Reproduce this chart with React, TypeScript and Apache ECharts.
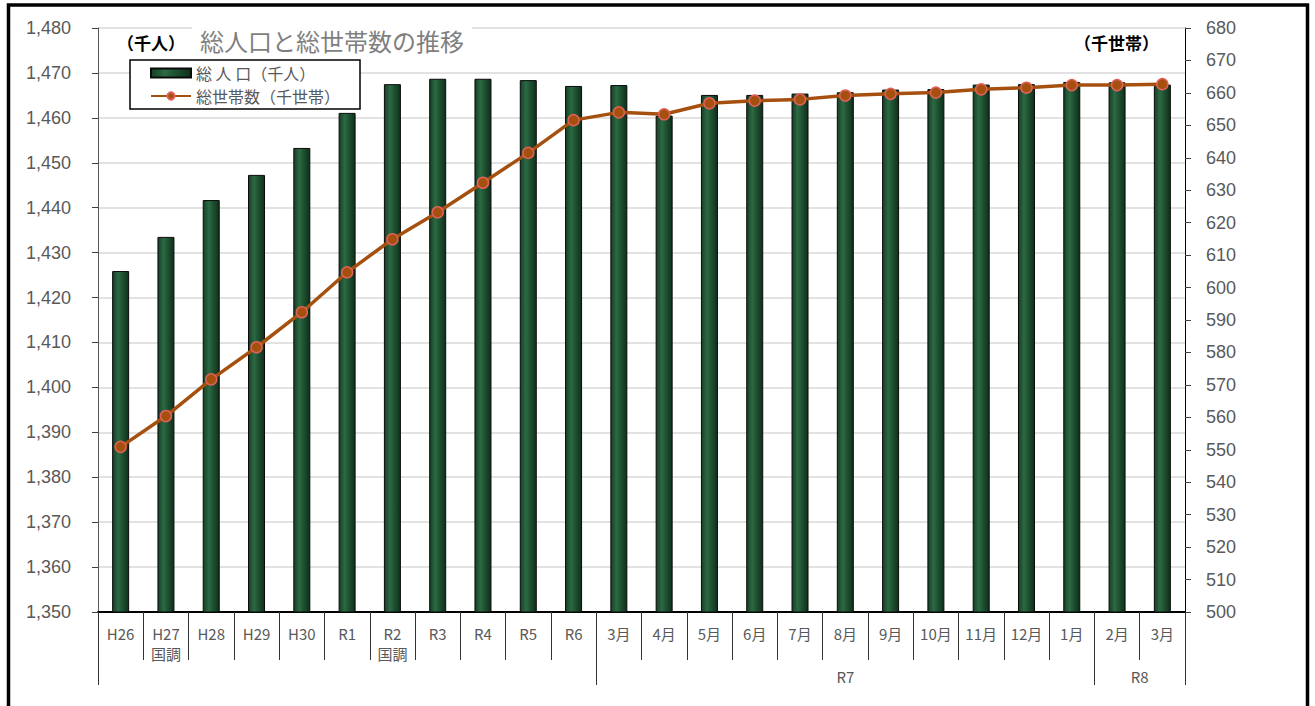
import React, { useEffect, useRef } from "react";
import * as echarts from "echarts";

const categories = [
  "H26", "H27\n国調", "H28", "H29", "H30", "R1", "R2\n国調", "R3", "R4", "R5", "R6",
  "3月", "4月", "5月", "6月", "7月", "8月", "9月", "10月", "11月", "12月", "1月", "2月", "3月",
];

const population = [
  1425.9, 1433.5, 1441.7, 1447.3, 1453.3, 1461.1, 1467.5, 1468.7, 1468.7, 1468.4, 1467.1,
  1467.3, 1460.5, 1465.1, 1465.1, 1465.4, 1465.7, 1466.3, 1466.4, 1467.4, 1467.5, 1468.0, 1467.9, 1467.4,
];

const households = [
  550.9, 560.4, 571.7, 581.6, 592.4, 604.7, 614.9, 623.2, 632.3, 641.5, 651.6,
  654.0, 653.4, 656.8, 657.6, 658.0, 659.2, 659.7, 660.1, 661.1, 661.6, 662.4, 662.4, 662.7,
];

const groupTicks = [0, 11, 22, 24];
const groupLabelPos = [16.5, 23];
const groupLabels = ["R7", "R8"];

const popName = "総 人 口（千人）";
const hhName = "総世帯数（千世帯）";

export default function App() {
  const ref = useRef<HTMLDivElement>(null);
  useEffect(() => {
    if (!ref.current) return;
    const chart = echarts.init(ref.current, null, { renderer: "svg" });
    const font = "'Noto Sans CJK JP', 'Liberation Sans', sans-serif";
    const numFont = "'Liberation Sans', Arial, sans-serif";
    chart.setOption({
      animation: false,
      textStyle: { fontFamily: font },
      grid: { left: 98, right: 130, top: 28, bottom: 94, containLabel: false },
      title: {
        text: "総人口と総世帯数の推移",
        left: 192,
        top: 18,
        backgroundColor: "#ffffff",
        padding: [10, 8, 4, 8],
        textStyle: { fontSize: 24, color: "#7f7f7f", fontWeight: "normal", fontFamily: font },
      },
      legend: {
        left: 130,
        top: 60,
        orient: "vertical",
        backgroundColor: "#ffffff",
        borderColor: "#000000",
        borderWidth: 1.5,
        borderRadius: 0,
        padding: [5, 20, 5, 20],
        itemGap: 7,
        itemWidth: 40,
        itemHeight: 9,
        textStyle: { fontSize: 16, lineHeight: 16, color: "#595959", fontFamily: font },
        data: [
          { name: popName, icon: "rect" },
          { name: hhName },
        ],
      },
      xAxis: [
        {
          type: "category",
          data: categories,
          boundaryGap: true,
          axisLine: { show: true, lineStyle: { color: "#000000", width: 2 } },
          axisTick: { show: true, interval: 0, length: 48, lineStyle: { color: "#333333", width: 1 } },
          axisLabel: {
            interval: 0,
            margin: 11,
            fontSize: 15,
            lineHeight: 20,
            color: "#595959",
            fontFamily: font,
          },
          splitLine: { show: false },
        },
        {
          type: "value",
          position: "bottom",
          offset: 0,
          min: 0,
          max: 24,
          axisLine: { show: false },
          axisTick: {
            show: true,
            customValues: groupTicks,
            length: 73,
            lineStyle: { color: "#333333", width: 1 },
          },
          axisLabel: {
            show: true,
            customValues: groupLabelPos,
            margin: 57,
            fontSize: 15,
            color: "#595959",
            fontFamily: font,
            formatter: (v: number) => groupLabels[groupLabelPos.indexOf(v)] ?? "",
          },
          splitLine: { show: false },
        },
      ],
      yAxis: [
        {
          type: "value",
          min: 1350,
          max: 1480,
          interval: 10,
          position: "left",
          axisLine: { show: true, lineStyle: { color: "#595959", width: 1 } },
          axisTick: { show: true, length: 6, lineStyle: { color: "#404040" } },
          axisLabel: {
            fontSize: 18,
            color: "#595959",
            margin: 27,
            fontFamily: numFont,
            formatter: (v: number) => v.toLocaleString("en-US"),
          },
          splitLine: { show: true, lineStyle: { color: "#d9d9d9", width: 1.5 } },
        },
        {
          type: "value",
          min: 500,
          max: 680,
          interval: 10,
          position: "right",
          axisLine: { show: true, lineStyle: { color: "#000000", width: 1 } },
          axisTick: { show: true, length: 6, lineStyle: { color: "#404040" } },
          axisLabel: {
            fontSize: 18,
            color: "#595959",
            margin: 21,
            fontFamily: numFont,
          },
          splitLine: { show: false },
        },
      ],
      graphic: [
        {
          type: "text",
          left: 117,
          top: 34,
          style: { text: "（千人）", fontSize: 17, fontWeight: "bold", fill: "#000000", fontFamily: font },
        },
        {
          type: "text",
          left: 1074,
          top: 34,
          style: { text: "（千世帯）", fontSize: 17, fontWeight: "bold", fill: "#000000", fontFamily: font },
        },
        {
          type: "rect",
          shape: { x: 8.5, y: 5, width: 1299, height: 720 },
          style: { fill: "none", stroke: "#000000", lineWidth: 3.5 },
          silent: true,
        },
      ],
      series: [
        {
          name: popName,
          type: "bar",
          xAxisIndex: 0,
          yAxisIndex: 0,
          data: population,
          barWidth: 17,
          itemStyle: {
            color: new echarts.graphic.LinearGradient(0, 0, 1, 0, [
              { offset: 0, color: "#153f25" },
              { offset: 0.35, color: "#2c6a43" },
              { offset: 0.6, color: "#1f5233" },
              { offset: 1, color: "#0f3019" },
            ]),
            borderColor: "#0a0a0a",
            borderWidth: 1,
          },
        },
        {
          name: hhName,
          type: "line",
          xAxisIndex: 0,
          yAxisIndex: 1,
          data: households,
          symbol: "circle",
          symbolSize: 11,
          lineStyle: { color: "#a5500f", width: 3.5 },
          itemStyle: { color: "#a5500f", borderColor: "#e0605a", borderWidth: 1.5 },
          z: 5,
        },
      ],
    });
    return () => chart.dispose();
  }, []);
  return (
    <div
      ref={ref}
      style={{ position: "absolute", left: 0, top: 0, width: 1315, height: 706, background: "#ffffff" }}
    />
  );
}
